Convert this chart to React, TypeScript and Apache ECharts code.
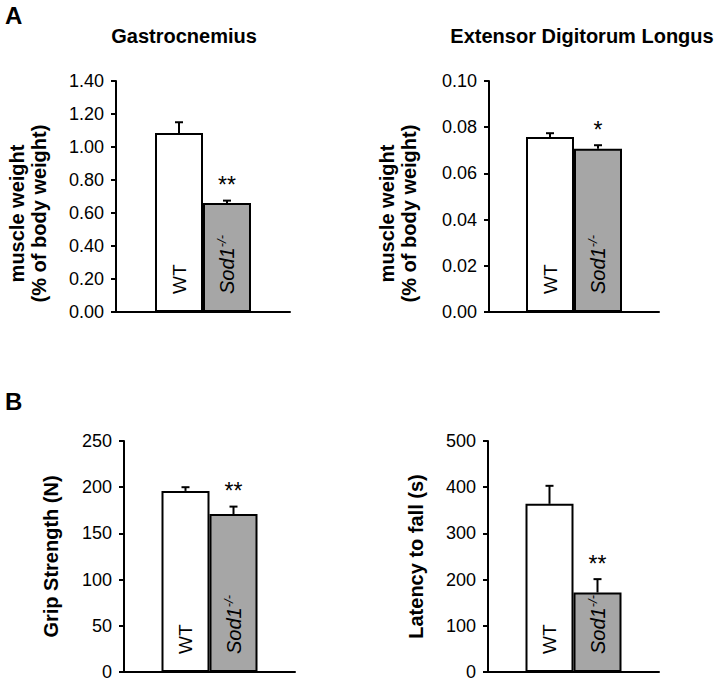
import React, { useEffect, useRef } from 'react';
import * as echarts from 'echarts';

const groups = ['WT', 'Sod1-/-'];

const gastrocMean = [1.085, 0.66];
const gastrocSem = [0.065, 0.015];
const gastrocSig = ['', '**'];

const edlMean = [0.0758, 0.0707];
const edlSem = [0.0016, 0.0015];
const edlSig = ['', '*'];

const gripMean = [196, 171];
const gripSem = [4, 8];
const gripSig = ['', '**'];

const latencyMean = [364, 172];
const latencySem = [39, 29];
const latencySig = ['', '**'];

const yMax = [1.4, 0.1, 250, 500];
const yInterval = [0.2, 0.02, 50, 100];
const yDecimals = [2, 2, 0, 0];
const yNames = ['muscle weight\n(% of body weight)', 'muscle weight\n(% of body weight)', 'Grip Strength (N)', 'Latency to fall (s)'];
const panelTitles = ['Gastrocnemius', 'Extensor Digitorum Longus'];
const panelLetters = ['A', 'B'];

const FONT = 'Liberation Sans, Arial, sans-serif';

const panels = [
  { mean: gastrocMean, sem: gastrocSem, sig: gastrocSig },
  { mean: edlMean, sem: edlSem, sig: edlSig },
  { mean: gripMean, sem: gripSem, sig: gripSig },
  { mean: latencyMean, sem: latencySem, sig: latencySig },
];

const gridBoxes = [
  { left: 116, top: 81, width: 174, height: 231 },
  { left: 489, top: 81, width: 170, height: 231 },
  { left: 124, top: 441, width: 171, height: 231 },
  { left: 488, top: 441, width: 171, height: 231 },
];
const nameGaps = [66, 69, 62, 61];
const namePadding = [[0, 34, 0, 0], [0, 34, 0, 0], [0, 0, 0, 0], [0, 0, 0, 0]];

const BAR_W = 48;

function buildOption() {
  const grid = gridBoxes.map((g) => ({ ...g, containLabel: false }));
  const xAxis = panels.map((_, i) => ({
    type: 'category',
    gridIndex: i,
    data: [''],
    axisLine: { show: true, lineStyle: { color: '#000', width: 2 } },
    axisTick: { show: false },
    axisLabel: { show: false },
    splitLine: { show: false },
  }));
  const yAxis = panels.map((_, i) => ({
    type: 'value',
    gridIndex: i,
    min: 0,
    max: yMax[i],
    interval: yInterval[i],
    name: yNames[i],
    nameLocation: 'middle',
    nameRotate: 90,
    nameGap: nameGaps[i],
    nameTextStyle: {
      fontFamily: FONT,
      fontWeight: 'bold',
      fontSize: 20,
      lineHeight: 22,
      color: '#000',
      padding: namePadding[i],
    },
    axisLine: { show: true, lineStyle: { color: '#000', width: 2 } },
    axisTick: { show: true, inside: false, length: 5, lineStyle: { color: '#000', width: 2 } },
    axisLabel: {
      fontFamily: FONT,
      fontSize: 18,
      color: '#000',
      margin: 12,
      formatter: (v: number) => v.toFixed(yDecimals[i]),
    },
    splitLine: { show: false },
  }));

  const series: any[] = [];
  panels.forEach((p, i) => {
    series.push({
      type: 'bar',
      name: groups[0],
      xAxisIndex: i,
      yAxisIndex: i,
      data: [p.mean[0]],
      barWidth: BAR_W,
      barGap: '0%',
      itemStyle: { color: '#ffffff', borderColor: '#000', borderWidth: 2 },
      label: {
        show: true,
        position: 'insideBottom',
        rotate: 90,
        align: 'left',
        verticalAlign: 'middle',
        distance: 18,
        formatter: 'WT',
        fontFamily: FONT,
        fontSize: 19,
        color: '#000',
      },
      z: 2,
    });
    series.push({
      type: 'bar',
      name: groups[1],
      xAxisIndex: i,
      yAxisIndex: i,
      data: [p.mean[1]],
      barWidth: BAR_W,
      barGap: '0%',
      itemStyle: { color: '#a6a6a6', borderColor: '#000', borderWidth: 2 },
      label: {
        show: true,
        position: 'insideBottom',
        rotate: 90,
        align: 'left',
        verticalAlign: 'middle',
        distance: 18,
        formatter: '{i|Sod1}{s|-/-}',
        rich: {
          i: { fontFamily: FONT, fontStyle: 'italic', fontSize: 20, color: '#000', lineHeight: 24 },
          s: { fontFamily: FONT, fontStyle: 'italic', fontSize: 13, color: '#000', verticalAlign: 'top', lineHeight: 13 },
        },
      },
      z: 2,
    });
    series.push({
      type: 'custom',
      xAxisIndex: i,
      yAxisIndex: i,
      z: 5,
      clip: false,
      data: [
        [0, p.mean[0], p.sem[0]],
        [0, p.mean[1], p.sem[1]],
      ],
      encode: { x: 0, y: 1 },
      renderItem: (params: any, api: any) => {
        const idx = params.dataIndex;
        const m = api.value(1);
        const s = api.value(2);
        const base = api.coord([0, m]);
        const top = api.coord([0, m + s]);
        const cx = base[0] + (idx === 0 ? -BAR_W / 2 : BAR_W / 2);
        return {
          type: 'group',
          children: [
            { type: 'line', shape: { x1: cx, y1: base[1], x2: cx, y2: top[1] }, style: { stroke: '#000', lineWidth: 2 } },
            { type: 'line', shape: { x1: cx - 4, y1: top[1], x2: cx + 4, y2: top[1] }, style: { stroke: '#000', lineWidth: 2 } },
            {
              type: 'text',
              style: {
                text: p.sig[idx],
                x: cx,
                y: top[1] - 4,
                align: 'center',
                verticalAlign: 'bottom',
                fontFamily: FONT,
                fontSize: 23,
                fill: '#000',
              },
            },
          ],
        };
      },
    });
  });

  const graphic = [
    { type: 'text', left: 5, top: 3, style: { text: panelLetters[0], font: `bold 24px ${FONT}`, fill: '#000' } },
    { type: 'text', left: 5, top: 389, style: { text: panelLetters[1], font: `bold 24px ${FONT}`, fill: '#000' } },
    { type: 'text', x: 184, y: 36, style: { text: panelTitles[0], font: `bold 20px ${FONT}`, fill: '#000', align: 'center', verticalAlign: 'middle' } },
    { type: 'text', x: 582, y: 36, style: { text: panelTitles[1], font: `bold 20px ${FONT}`, fill: '#000', align: 'center', verticalAlign: 'middle' } },
  ];

  return {
    animation: false,
    backgroundColor: '#ffffff',
    grid,
    xAxis,
    yAxis,
    series,
    graphic,
  };
}

export default function App() {
  const ref = useRef<HTMLDivElement>(null);
  useEffect(() => {
    if (!ref.current) return;
    const chart = echarts.init(ref.current, undefined, { renderer: 'svg' });
    chart.setOption(buildOption() as any);
    return () => chart.dispose();
  }, []);
  return <div ref={ref} style={{ position: 'fixed', left: 0, top: 0, width: 719, height: 685 }} />;
}
